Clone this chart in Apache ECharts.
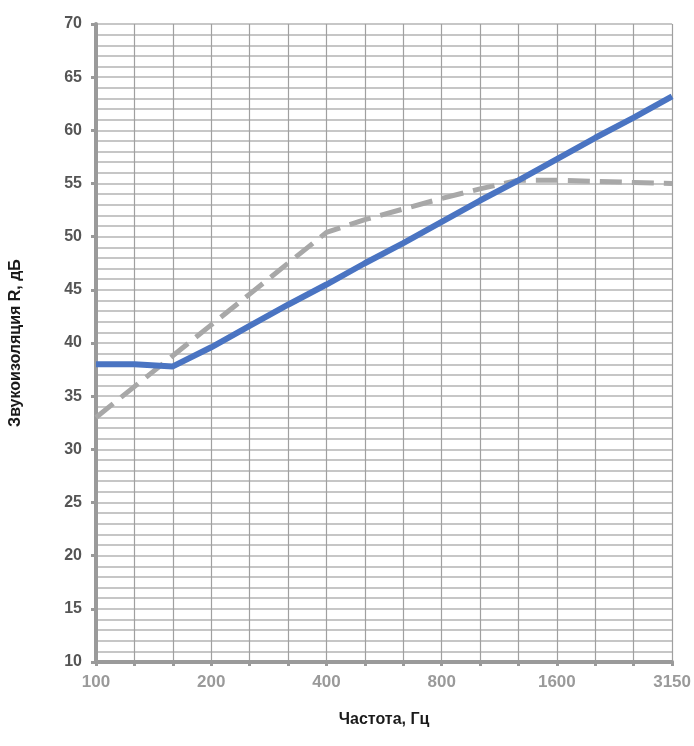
<!DOCTYPE html>
<html>
<head>
<meta charset="utf-8">
<script src="https://cdn.jsdelivr.net/npm/echarts@6/dist/echarts.min.js"></script>
<style>html,body{margin:0;padding:0;background:#fff}#c{width:694px;height:746px}</style>
</head>
<body>
<div id="c"></div>
<script>
const freqs = ['100','125','160','200','250','315','400','500','630','800','1000','1250','1600','2000','2500','3150'];
const shownLabels = ['100','200','400','800','1600','3150'];
const seriesSolid = [38, 38, 37.8, 39.6, 41.6, 43.6, 45.5, 47.5, 49.4, 51.4, 53.4, 55.3, 57.3, 59.3, 61.2, 63.2];
const seriesDashed = [33, 35.9, 38.8, 41.7, 44.6, 47.5, 50.4, 51.6, 52.6, 53.6, 54.5, 55.3, 55.3, 55.2, 55.1, 55.0];

const chart = echarts.init(document.getElementById('c'));
chart.setOption({
  backgroundColor: '#fff',
  animation: false,
  grid: {left: 96, right: 14, top: 24, bottom: 84},
  xAxis: {
    type: 'category',
    data: freqs,
    boundaryGap: false,
    name: 'Частота, Гц',
    nameLocation: 'middle',
    nameGap: 50,
    nameTextStyle: {fontFamily: 'Liberation Sans, Arial', fontWeight: 'bold', fontSize: 16, color: '#1a1a1a'},
    axisLine: {lineStyle: {color: '#9a9a9a', width: 4}},
    axisTick: {show: true, interval: 0, length: 4, lineStyle: {color: '#9a9a9a', width: 3}},
    axisLabel: {
      interval: 0, margin: 12,
      fontFamily: 'Liberation Sans, Arial', fontWeight: 'bold', fontSize: 17, color: '#9a9a9a',
      formatter: v => shownLabels.includes(v) ? v : ''
    },
    splitLine: {show: true, interval: 0, lineStyle: {color: '#a0a0a0', width: 1.2}}
  },
  yAxis: {
    type: 'value',
    min: 10, max: 70, interval: 5,
    name: 'Звукоизоляция R, дБ',
    nameLocation: 'middle',
    nameGap: 72,
    nameTextStyle: {fontFamily: 'Liberation Sans, Arial', fontWeight: 'bold', fontSize: 16, color: '#1a1a1a'},
    axisLine: {show: true, lineStyle: {color: '#9a9a9a', width: 4}},
    axisTick: {show: true, length: 5, lineStyle: {color: '#9a9a9a', width: 3}},
    axisLabel: {margin: 14, fontFamily: 'Liberation Sans, Arial', fontWeight: 'bold', fontSize: 16, color: '#555'},
    splitLine: {show: true, lineStyle: {color: '#b4b4b4', width: 1.5}},
    minorTick: {show: false, splitNumber: 5},
    minorSplitLine: {show: true, lineStyle: {color: '#b4b4b4', width: 1.5}}
  },
  series: [
    {
      type: 'line', data: seriesDashed, symbol: 'none', z: 2,
      lineStyle: {color: '#a8a8a8', width: 5, type: [22, 10]}
    },
    {
      type: 'line', data: seriesSolid, symbol: 'none', z: 3,
      lineStyle: {color: '#4a74c2', width: 6}
    }
  ]
});
</script>
</body>
</html>
